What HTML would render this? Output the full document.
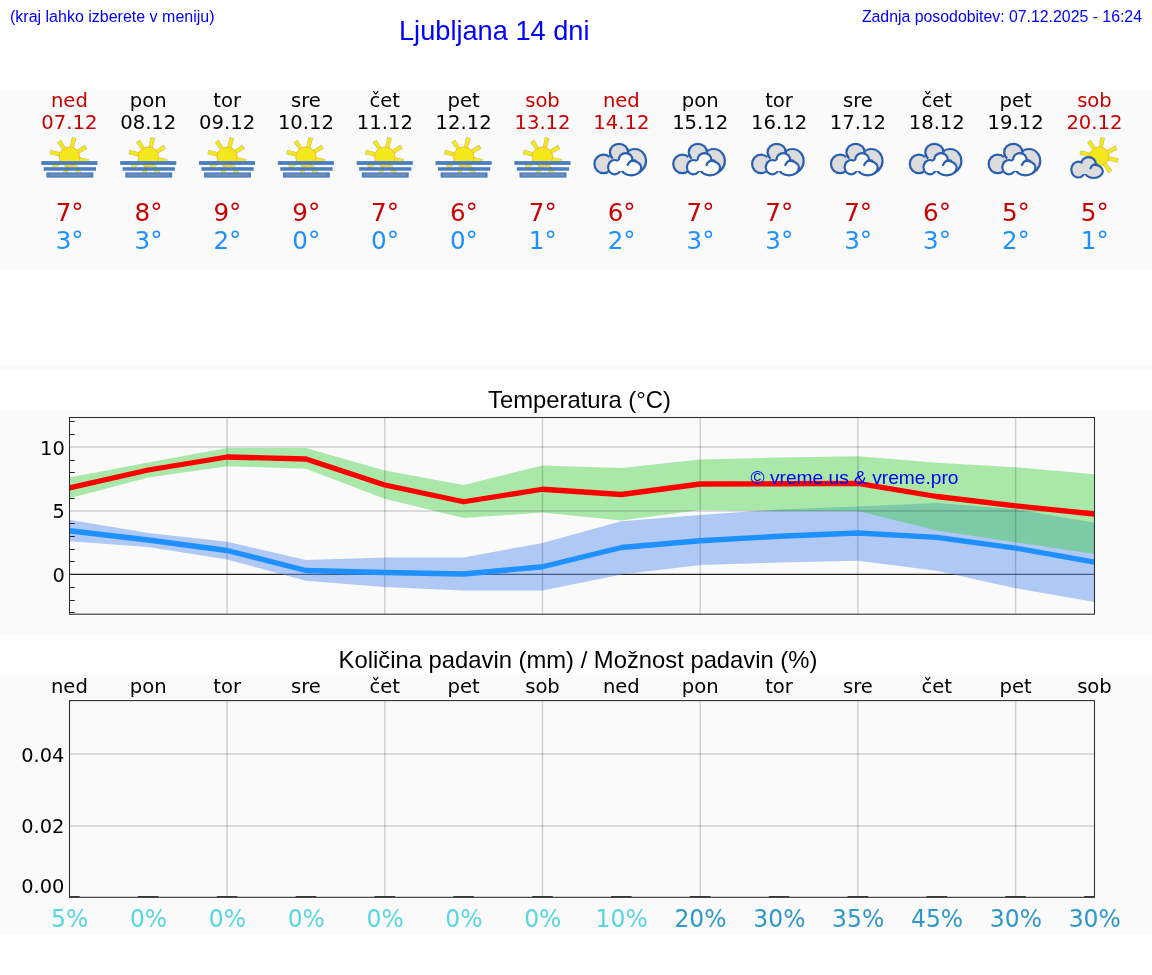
<!DOCTYPE html>
<html lang="sl"><head><meta charset="utf-8"><title>Ljubljana 14 dni</title>
<style>
html,body{margin:0;padding:0;background:#fff;}
body{width:1152px;height:975px;position:relative;overflow:hidden;}
.hdr{position:absolute;color:#0000ff;font-family:"Liberation Sans",sans-serif;white-space:nowrap;}
svg{position:absolute;left:0;top:0;}
text{white-space:pre;}
</style></head><body>
<div class="hdr" style="left:10px;top:8px;font-size:16px;line-height:18px;">(kraj lahko izberete v meniju)</div>
<div class="hdr" style="left:399px;top:15px;font-size:27.2px;line-height:32px;">Ljubljana 14 dni</div>
<div class="hdr" style="right:10px;top:8px;font-size:15.85px;line-height:18px;">Zadnja posodobitev: 07.12.2025 - 16:24</div>
<svg width="1152" height="975" viewBox="0 0 1152 975">

<rect x="0" y="90" width="1152" height="180" fill="#fafafa"/>
<rect x="0" y="365" width="1152" height="5" fill="#fafafa"/>
<rect x="0" y="410" width="1152" height="225" fill="#fafafa"/>
<rect x="0" y="675" width="1152" height="260" fill="#fafafa"/>
<g style="font-family:'DejaVu Sans','Liberation Sans',sans-serif" text-anchor="middle">
<text x="69.40" y="107" font-size="19.6" fill="#cc0000">ned</text>
<text x="69.40" y="128.7" font-size="19.6" fill="#cc0000">07.12</text>
<text x="69.70" y="220.8" font-size="24.6" fill="#cc0000">7°</text>
<text x="69.70" y="248.6" font-size="24.6" fill="#1e90ff">3°</text>
<text x="148.25" y="107" font-size="19.6" fill="#000">pon</text>
<text x="148.25" y="128.7" font-size="19.6" fill="#000">08.12</text>
<text x="148.55" y="220.8" font-size="24.6" fill="#cc0000">8°</text>
<text x="148.55" y="248.6" font-size="24.6" fill="#1e90ff">3°</text>
<text x="227.10" y="107" font-size="19.6" fill="#000">tor</text>
<text x="227.10" y="128.7" font-size="19.6" fill="#000">09.12</text>
<text x="227.40" y="220.8" font-size="24.6" fill="#cc0000">9°</text>
<text x="227.40" y="248.6" font-size="24.6" fill="#1e90ff">2°</text>
<text x="305.95" y="107" font-size="19.6" fill="#000">sre</text>
<text x="305.95" y="128.7" font-size="19.6" fill="#000">10.12</text>
<text x="306.25" y="220.8" font-size="24.6" fill="#cc0000">9°</text>
<text x="306.25" y="248.6" font-size="24.6" fill="#1e90ff">0°</text>
<text x="384.80" y="107" font-size="19.6" fill="#000">čet</text>
<text x="384.80" y="128.7" font-size="19.6" fill="#000">11.12</text>
<text x="385.10" y="220.8" font-size="24.6" fill="#cc0000">7°</text>
<text x="385.10" y="248.6" font-size="24.6" fill="#1e90ff">0°</text>
<text x="463.65" y="107" font-size="19.6" fill="#000">pet</text>
<text x="463.65" y="128.7" font-size="19.6" fill="#000">12.12</text>
<text x="463.95" y="220.8" font-size="24.6" fill="#cc0000">6°</text>
<text x="463.95" y="248.6" font-size="24.6" fill="#1e90ff">0°</text>
<text x="542.50" y="107" font-size="19.6" fill="#cc0000">sob</text>
<text x="542.50" y="128.7" font-size="19.6" fill="#cc0000">13.12</text>
<text x="542.80" y="220.8" font-size="24.6" fill="#cc0000">7°</text>
<text x="542.80" y="248.6" font-size="24.6" fill="#1e90ff">1°</text>
<text x="621.35" y="107" font-size="19.6" fill="#cc0000">ned</text>
<text x="621.35" y="128.7" font-size="19.6" fill="#cc0000">14.12</text>
<text x="621.65" y="220.8" font-size="24.6" fill="#cc0000">6°</text>
<text x="621.65" y="248.6" font-size="24.6" fill="#1e90ff">2°</text>
<text x="700.20" y="107" font-size="19.6" fill="#000">pon</text>
<text x="700.20" y="128.7" font-size="19.6" fill="#000">15.12</text>
<text x="700.50" y="220.8" font-size="24.6" fill="#cc0000">7°</text>
<text x="700.50" y="248.6" font-size="24.6" fill="#1e90ff">3°</text>
<text x="779.05" y="107" font-size="19.6" fill="#000">tor</text>
<text x="779.05" y="128.7" font-size="19.6" fill="#000">16.12</text>
<text x="779.35" y="220.8" font-size="24.6" fill="#cc0000">7°</text>
<text x="779.35" y="248.6" font-size="24.6" fill="#1e90ff">3°</text>
<text x="857.90" y="107" font-size="19.6" fill="#000">sre</text>
<text x="857.90" y="128.7" font-size="19.6" fill="#000">17.12</text>
<text x="858.20" y="220.8" font-size="24.6" fill="#cc0000">7°</text>
<text x="858.20" y="248.6" font-size="24.6" fill="#1e90ff">3°</text>
<text x="936.75" y="107" font-size="19.6" fill="#000">čet</text>
<text x="936.75" y="128.7" font-size="19.6" fill="#000">18.12</text>
<text x="937.05" y="220.8" font-size="24.6" fill="#cc0000">6°</text>
<text x="937.05" y="248.6" font-size="24.6" fill="#1e90ff">3°</text>
<text x="1015.60" y="107" font-size="19.6" fill="#000">pet</text>
<text x="1015.60" y="128.7" font-size="19.6" fill="#000">19.12</text>
<text x="1015.90" y="220.8" font-size="24.6" fill="#cc0000">5°</text>
<text x="1015.90" y="248.6" font-size="24.6" fill="#1e90ff">2°</text>
<text x="1094.45" y="107" font-size="19.6" fill="#cc0000">sob</text>
<text x="1094.45" y="128.7" font-size="19.6" fill="#cc0000">20.12</text>
<text x="1094.75" y="220.8" font-size="24.6" fill="#cc0000">5°</text>
<text x="1094.75" y="248.6" font-size="24.6" fill="#1e90ff">1°</text>
</g>
<g transform="translate(36.30,130)"><polygon points="41.34,24.21 50.95,18.84 48.51,14.77 39.26,20.74" fill="#bdb98f"/><polygon points="41.11,23.82 50.33,18.69 48.35,15.39 39.49,21.12" fill="#f3e81c"/><polygon points="37.10,19.14 40.17,8.26 35.56,7.11 33.17,18.16" fill="#bdb98f"/><polygon points="36.66,19.03 39.62,8.59 35.89,7.66 33.60,18.27" fill="#f3e81c"/><polygon points="30.22,18.65 24.80,9.66 20.81,12.24 26.83,20.86" fill="#bdb98f"/><polygon points="29.85,18.90 24.67,10.28 21.44,12.37 27.20,20.61" fill="#f3e81c"/><polygon points="25.44,22.80 14.46,19.71 13.31,24.31 24.46,26.73" fill="#bdb98f"/><polygon points="25.33,23.24 14.79,20.25 13.86,23.99 24.57,26.30" fill="#f3e81c"/><polygon points="24.86,29.39 15.16,34.81 17.61,38.88 26.94,32.86" fill="#bdb98f"/><polygon points="25.09,29.78 15.78,34.96 17.76,38.26 26.71,32.48" fill="#f3e81c"/><polygon points="29.10,34.46 26.08,45.15 30.69,46.30 33.03,35.44" fill="#bdb98f"/><polygon points="29.54,34.57 26.62,44.82 30.36,45.75 32.60,35.33" fill="#f3e81c"/><polygon points="35.69,35.04 41.11,44.74 45.18,42.29 39.16,32.96" fill="#bdb98f"/><polygon points="36.08,34.81 41.26,44.12 44.56,42.14 38.78,33.19" fill="#f3e81c"/><polygon points="40.76,30.80 51.35,33.80 52.50,29.19 41.74,26.87" fill="#bdb98f"/><polygon points="40.87,30.36 51.02,33.25 51.95,29.52 41.63,27.30" fill="#f3e81c"/><ellipse cx="33.1" cy="26.8" rx="10.19" ry="9.80" fill="#f2e81b" stroke="#f7b52c" stroke-width="0.9"/><rect x="5" y="31.1" width="56.1" height="3.8" fill="#4b7dc2"/><rect x="7.4" y="37.2" width="52.3" height="3.5" fill="#4b7dc2"/><rect x="10.1" y="42.4" width="46.9" height="5.2" fill="#4b7dc2"/><rect x="12.5" y="43.6" width="42" height="2.8" fill="#6a8dbb"/></g>
<g transform="translate(115.15,130)"><polygon points="41.34,24.21 50.95,18.84 48.51,14.77 39.26,20.74" fill="#bdb98f"/><polygon points="41.11,23.82 50.33,18.69 48.35,15.39 39.49,21.12" fill="#f3e81c"/><polygon points="37.10,19.14 40.17,8.26 35.56,7.11 33.17,18.16" fill="#bdb98f"/><polygon points="36.66,19.03 39.62,8.59 35.89,7.66 33.60,18.27" fill="#f3e81c"/><polygon points="30.22,18.65 24.80,9.66 20.81,12.24 26.83,20.86" fill="#bdb98f"/><polygon points="29.85,18.90 24.67,10.28 21.44,12.37 27.20,20.61" fill="#f3e81c"/><polygon points="25.44,22.80 14.46,19.71 13.31,24.31 24.46,26.73" fill="#bdb98f"/><polygon points="25.33,23.24 14.79,20.25 13.86,23.99 24.57,26.30" fill="#f3e81c"/><polygon points="24.86,29.39 15.16,34.81 17.61,38.88 26.94,32.86" fill="#bdb98f"/><polygon points="25.09,29.78 15.78,34.96 17.76,38.26 26.71,32.48" fill="#f3e81c"/><polygon points="29.10,34.46 26.08,45.15 30.69,46.30 33.03,35.44" fill="#bdb98f"/><polygon points="29.54,34.57 26.62,44.82 30.36,45.75 32.60,35.33" fill="#f3e81c"/><polygon points="35.69,35.04 41.11,44.74 45.18,42.29 39.16,32.96" fill="#bdb98f"/><polygon points="36.08,34.81 41.26,44.12 44.56,42.14 38.78,33.19" fill="#f3e81c"/><polygon points="40.76,30.80 51.35,33.80 52.50,29.19 41.74,26.87" fill="#bdb98f"/><polygon points="40.87,30.36 51.02,33.25 51.95,29.52 41.63,27.30" fill="#f3e81c"/><ellipse cx="33.1" cy="26.8" rx="10.19" ry="9.80" fill="#f2e81b" stroke="#f7b52c" stroke-width="0.9"/><rect x="5" y="31.1" width="56.1" height="3.8" fill="#4b7dc2"/><rect x="7.4" y="37.2" width="52.3" height="3.5" fill="#4b7dc2"/><rect x="10.1" y="42.4" width="46.9" height="5.2" fill="#4b7dc2"/><rect x="12.5" y="43.6" width="42" height="2.8" fill="#6a8dbb"/></g>
<g transform="translate(194.00,130)"><polygon points="41.34,24.21 50.95,18.84 48.51,14.77 39.26,20.74" fill="#bdb98f"/><polygon points="41.11,23.82 50.33,18.69 48.35,15.39 39.49,21.12" fill="#f3e81c"/><polygon points="37.10,19.14 40.17,8.26 35.56,7.11 33.17,18.16" fill="#bdb98f"/><polygon points="36.66,19.03 39.62,8.59 35.89,7.66 33.60,18.27" fill="#f3e81c"/><polygon points="30.22,18.65 24.80,9.66 20.81,12.24 26.83,20.86" fill="#bdb98f"/><polygon points="29.85,18.90 24.67,10.28 21.44,12.37 27.20,20.61" fill="#f3e81c"/><polygon points="25.44,22.80 14.46,19.71 13.31,24.31 24.46,26.73" fill="#bdb98f"/><polygon points="25.33,23.24 14.79,20.25 13.86,23.99 24.57,26.30" fill="#f3e81c"/><polygon points="24.86,29.39 15.16,34.81 17.61,38.88 26.94,32.86" fill="#bdb98f"/><polygon points="25.09,29.78 15.78,34.96 17.76,38.26 26.71,32.48" fill="#f3e81c"/><polygon points="29.10,34.46 26.08,45.15 30.69,46.30 33.03,35.44" fill="#bdb98f"/><polygon points="29.54,34.57 26.62,44.82 30.36,45.75 32.60,35.33" fill="#f3e81c"/><polygon points="35.69,35.04 41.11,44.74 45.18,42.29 39.16,32.96" fill="#bdb98f"/><polygon points="36.08,34.81 41.26,44.12 44.56,42.14 38.78,33.19" fill="#f3e81c"/><polygon points="40.76,30.80 51.35,33.80 52.50,29.19 41.74,26.87" fill="#bdb98f"/><polygon points="40.87,30.36 51.02,33.25 51.95,29.52 41.63,27.30" fill="#f3e81c"/><ellipse cx="33.1" cy="26.8" rx="10.19" ry="9.80" fill="#f2e81b" stroke="#f7b52c" stroke-width="0.9"/><rect x="5" y="31.1" width="56.1" height="3.8" fill="#4b7dc2"/><rect x="7.4" y="37.2" width="52.3" height="3.5" fill="#4b7dc2"/><rect x="10.1" y="42.4" width="46.9" height="5.2" fill="#4b7dc2"/><rect x="12.5" y="43.6" width="42" height="2.8" fill="#6a8dbb"/></g>
<g transform="translate(272.85,130)"><polygon points="41.34,24.21 50.95,18.84 48.51,14.77 39.26,20.74" fill="#bdb98f"/><polygon points="41.11,23.82 50.33,18.69 48.35,15.39 39.49,21.12" fill="#f3e81c"/><polygon points="37.10,19.14 40.17,8.26 35.56,7.11 33.17,18.16" fill="#bdb98f"/><polygon points="36.66,19.03 39.62,8.59 35.89,7.66 33.60,18.27" fill="#f3e81c"/><polygon points="30.22,18.65 24.80,9.66 20.81,12.24 26.83,20.86" fill="#bdb98f"/><polygon points="29.85,18.90 24.67,10.28 21.44,12.37 27.20,20.61" fill="#f3e81c"/><polygon points="25.44,22.80 14.46,19.71 13.31,24.31 24.46,26.73" fill="#bdb98f"/><polygon points="25.33,23.24 14.79,20.25 13.86,23.99 24.57,26.30" fill="#f3e81c"/><polygon points="24.86,29.39 15.16,34.81 17.61,38.88 26.94,32.86" fill="#bdb98f"/><polygon points="25.09,29.78 15.78,34.96 17.76,38.26 26.71,32.48" fill="#f3e81c"/><polygon points="29.10,34.46 26.08,45.15 30.69,46.30 33.03,35.44" fill="#bdb98f"/><polygon points="29.54,34.57 26.62,44.82 30.36,45.75 32.60,35.33" fill="#f3e81c"/><polygon points="35.69,35.04 41.11,44.74 45.18,42.29 39.16,32.96" fill="#bdb98f"/><polygon points="36.08,34.81 41.26,44.12 44.56,42.14 38.78,33.19" fill="#f3e81c"/><polygon points="40.76,30.80 51.35,33.80 52.50,29.19 41.74,26.87" fill="#bdb98f"/><polygon points="40.87,30.36 51.02,33.25 51.95,29.52 41.63,27.30" fill="#f3e81c"/><ellipse cx="33.1" cy="26.8" rx="10.19" ry="9.80" fill="#f2e81b" stroke="#f7b52c" stroke-width="0.9"/><rect x="5" y="31.1" width="56.1" height="3.8" fill="#4b7dc2"/><rect x="7.4" y="37.2" width="52.3" height="3.5" fill="#4b7dc2"/><rect x="10.1" y="42.4" width="46.9" height="5.2" fill="#4b7dc2"/><rect x="12.5" y="43.6" width="42" height="2.8" fill="#6a8dbb"/></g>
<g transform="translate(351.70,130)"><polygon points="41.34,24.21 50.95,18.84 48.51,14.77 39.26,20.74" fill="#bdb98f"/><polygon points="41.11,23.82 50.33,18.69 48.35,15.39 39.49,21.12" fill="#f3e81c"/><polygon points="37.10,19.14 40.17,8.26 35.56,7.11 33.17,18.16" fill="#bdb98f"/><polygon points="36.66,19.03 39.62,8.59 35.89,7.66 33.60,18.27" fill="#f3e81c"/><polygon points="30.22,18.65 24.80,9.66 20.81,12.24 26.83,20.86" fill="#bdb98f"/><polygon points="29.85,18.90 24.67,10.28 21.44,12.37 27.20,20.61" fill="#f3e81c"/><polygon points="25.44,22.80 14.46,19.71 13.31,24.31 24.46,26.73" fill="#bdb98f"/><polygon points="25.33,23.24 14.79,20.25 13.86,23.99 24.57,26.30" fill="#f3e81c"/><polygon points="24.86,29.39 15.16,34.81 17.61,38.88 26.94,32.86" fill="#bdb98f"/><polygon points="25.09,29.78 15.78,34.96 17.76,38.26 26.71,32.48" fill="#f3e81c"/><polygon points="29.10,34.46 26.08,45.15 30.69,46.30 33.03,35.44" fill="#bdb98f"/><polygon points="29.54,34.57 26.62,44.82 30.36,45.75 32.60,35.33" fill="#f3e81c"/><polygon points="35.69,35.04 41.11,44.74 45.18,42.29 39.16,32.96" fill="#bdb98f"/><polygon points="36.08,34.81 41.26,44.12 44.56,42.14 38.78,33.19" fill="#f3e81c"/><polygon points="40.76,30.80 51.35,33.80 52.50,29.19 41.74,26.87" fill="#bdb98f"/><polygon points="40.87,30.36 51.02,33.25 51.95,29.52 41.63,27.30" fill="#f3e81c"/><ellipse cx="33.1" cy="26.8" rx="10.19" ry="9.80" fill="#f2e81b" stroke="#f7b52c" stroke-width="0.9"/><rect x="5" y="31.1" width="56.1" height="3.8" fill="#4b7dc2"/><rect x="7.4" y="37.2" width="52.3" height="3.5" fill="#4b7dc2"/><rect x="10.1" y="42.4" width="46.9" height="5.2" fill="#4b7dc2"/><rect x="12.5" y="43.6" width="42" height="2.8" fill="#6a8dbb"/></g>
<g transform="translate(430.55,130)"><polygon points="41.34,24.21 50.95,18.84 48.51,14.77 39.26,20.74" fill="#bdb98f"/><polygon points="41.11,23.82 50.33,18.69 48.35,15.39 39.49,21.12" fill="#f3e81c"/><polygon points="37.10,19.14 40.17,8.26 35.56,7.11 33.17,18.16" fill="#bdb98f"/><polygon points="36.66,19.03 39.62,8.59 35.89,7.66 33.60,18.27" fill="#f3e81c"/><polygon points="30.22,18.65 24.80,9.66 20.81,12.24 26.83,20.86" fill="#bdb98f"/><polygon points="29.85,18.90 24.67,10.28 21.44,12.37 27.20,20.61" fill="#f3e81c"/><polygon points="25.44,22.80 14.46,19.71 13.31,24.31 24.46,26.73" fill="#bdb98f"/><polygon points="25.33,23.24 14.79,20.25 13.86,23.99 24.57,26.30" fill="#f3e81c"/><polygon points="24.86,29.39 15.16,34.81 17.61,38.88 26.94,32.86" fill="#bdb98f"/><polygon points="25.09,29.78 15.78,34.96 17.76,38.26 26.71,32.48" fill="#f3e81c"/><polygon points="29.10,34.46 26.08,45.15 30.69,46.30 33.03,35.44" fill="#bdb98f"/><polygon points="29.54,34.57 26.62,44.82 30.36,45.75 32.60,35.33" fill="#f3e81c"/><polygon points="35.69,35.04 41.11,44.74 45.18,42.29 39.16,32.96" fill="#bdb98f"/><polygon points="36.08,34.81 41.26,44.12 44.56,42.14 38.78,33.19" fill="#f3e81c"/><polygon points="40.76,30.80 51.35,33.80 52.50,29.19 41.74,26.87" fill="#bdb98f"/><polygon points="40.87,30.36 51.02,33.25 51.95,29.52 41.63,27.30" fill="#f3e81c"/><ellipse cx="33.1" cy="26.8" rx="10.19" ry="9.80" fill="#f2e81b" stroke="#f7b52c" stroke-width="0.9"/><rect x="5" y="31.1" width="56.1" height="3.8" fill="#4b7dc2"/><rect x="7.4" y="37.2" width="52.3" height="3.5" fill="#4b7dc2"/><rect x="10.1" y="42.4" width="46.9" height="5.2" fill="#4b7dc2"/><rect x="12.5" y="43.6" width="42" height="2.8" fill="#6a8dbb"/></g>
<g transform="translate(509.40,130)"><polygon points="41.34,24.21 50.95,18.84 48.51,14.77 39.26,20.74" fill="#bdb98f"/><polygon points="41.11,23.82 50.33,18.69 48.35,15.39 39.49,21.12" fill="#f3e81c"/><polygon points="37.10,19.14 40.17,8.26 35.56,7.11 33.17,18.16" fill="#bdb98f"/><polygon points="36.66,19.03 39.62,8.59 35.89,7.66 33.60,18.27" fill="#f3e81c"/><polygon points="30.22,18.65 24.80,9.66 20.81,12.24 26.83,20.86" fill="#bdb98f"/><polygon points="29.85,18.90 24.67,10.28 21.44,12.37 27.20,20.61" fill="#f3e81c"/><polygon points="25.44,22.80 14.46,19.71 13.31,24.31 24.46,26.73" fill="#bdb98f"/><polygon points="25.33,23.24 14.79,20.25 13.86,23.99 24.57,26.30" fill="#f3e81c"/><polygon points="24.86,29.39 15.16,34.81 17.61,38.88 26.94,32.86" fill="#bdb98f"/><polygon points="25.09,29.78 15.78,34.96 17.76,38.26 26.71,32.48" fill="#f3e81c"/><polygon points="29.10,34.46 26.08,45.15 30.69,46.30 33.03,35.44" fill="#bdb98f"/><polygon points="29.54,34.57 26.62,44.82 30.36,45.75 32.60,35.33" fill="#f3e81c"/><polygon points="35.69,35.04 41.11,44.74 45.18,42.29 39.16,32.96" fill="#bdb98f"/><polygon points="36.08,34.81 41.26,44.12 44.56,42.14 38.78,33.19" fill="#f3e81c"/><polygon points="40.76,30.80 51.35,33.80 52.50,29.19 41.74,26.87" fill="#bdb98f"/><polygon points="40.87,30.36 51.02,33.25 51.95,29.52 41.63,27.30" fill="#f3e81c"/><ellipse cx="33.1" cy="26.8" rx="10.19" ry="9.80" fill="#f2e81b" stroke="#f7b52c" stroke-width="0.9"/><rect x="5" y="31.1" width="56.1" height="3.8" fill="#4b7dc2"/><rect x="7.4" y="37.2" width="52.3" height="3.5" fill="#4b7dc2"/><rect x="10.1" y="42.4" width="46.9" height="5.2" fill="#4b7dc2"/><rect x="12.5" y="43.6" width="42" height="2.8" fill="#6a8dbb"/></g>
<g transform="translate(585.00,135)"><ellipse cx="18.5" cy="28.9" rx="10.20" ry="10.30" fill="#2a5eb1"/><ellipse cx="49.8" cy="26" rx="12.30" ry="13.10" fill="#2a5eb1"/><ellipse cx="34" cy="17.2" rx="10.20" ry="9.40" fill="#2a5eb1"/><ellipse cx="18.5" cy="28.9" rx="8.00" ry="8.10" fill="#dcdcdc"/><ellipse cx="49.8" cy="26" rx="10.10" ry="10.90" fill="#dcdcdc"/><ellipse cx="34" cy="17.2" rx="8.00" ry="7.20" fill="#dcdcdc"/><polygon points="24,22 44,18 50,36 26,36" fill="#dcdcdc"/><path d="M25.1,18.6 Q25.6,21.6 27.8,23.6 M42.8,15.5 Q43.3,17 43.1,18.5" fill="none" stroke="#2a5eb1" stroke-width="2.2"/><ellipse cx="29.6" cy="32.2" rx="7.60" ry="8.30" fill="#2a5eb1"/><ellipse cx="40.6" cy="24.8" rx="7.90" ry="7.80" fill="#2a5eb1"/><ellipse cx="46.2" cy="33" rx="11.10" ry="8.40" fill="#2a5eb1"/><ellipse cx="29.6" cy="32.2" rx="5.40" ry="6.10" fill="#fcfcfc"/><ellipse cx="40.6" cy="24.8" rx="5.70" ry="5.60" fill="#fcfcfc"/><ellipse cx="46.2" cy="33" rx="8.90" ry="6.20" fill="#fcfcfc"/><polygon points="30,28 40,22 48,30 46,36 32,36" fill="#fcfcfc"/><path d="M42.6,30 C44,26.8 47,25 50.5,25.6" fill="none" stroke="#2a5eb1" stroke-width="2.2" stroke-linecap="round"/></g>
<g transform="translate(663.85,135)"><ellipse cx="18.5" cy="28.9" rx="10.20" ry="10.30" fill="#2a5eb1"/><ellipse cx="49.8" cy="26" rx="12.30" ry="13.10" fill="#2a5eb1"/><ellipse cx="34" cy="17.2" rx="10.20" ry="9.40" fill="#2a5eb1"/><ellipse cx="18.5" cy="28.9" rx="8.00" ry="8.10" fill="#dcdcdc"/><ellipse cx="49.8" cy="26" rx="10.10" ry="10.90" fill="#dcdcdc"/><ellipse cx="34" cy="17.2" rx="8.00" ry="7.20" fill="#dcdcdc"/><polygon points="24,22 44,18 50,36 26,36" fill="#dcdcdc"/><path d="M25.1,18.6 Q25.6,21.6 27.8,23.6 M42.8,15.5 Q43.3,17 43.1,18.5" fill="none" stroke="#2a5eb1" stroke-width="2.2"/><ellipse cx="29.6" cy="32.2" rx="7.60" ry="8.30" fill="#2a5eb1"/><ellipse cx="40.6" cy="24.8" rx="7.90" ry="7.80" fill="#2a5eb1"/><ellipse cx="46.2" cy="33" rx="11.10" ry="8.40" fill="#2a5eb1"/><ellipse cx="29.6" cy="32.2" rx="5.40" ry="6.10" fill="#fcfcfc"/><ellipse cx="40.6" cy="24.8" rx="5.70" ry="5.60" fill="#fcfcfc"/><ellipse cx="46.2" cy="33" rx="8.90" ry="6.20" fill="#fcfcfc"/><polygon points="30,28 40,22 48,30 46,36 32,36" fill="#fcfcfc"/><path d="M42.6,30 C44,26.8 47,25 50.5,25.6" fill="none" stroke="#2a5eb1" stroke-width="2.2" stroke-linecap="round"/></g>
<g transform="translate(742.70,135)"><ellipse cx="18.5" cy="28.9" rx="10.20" ry="10.30" fill="#2a5eb1"/><ellipse cx="49.8" cy="26" rx="12.30" ry="13.10" fill="#2a5eb1"/><ellipse cx="34" cy="17.2" rx="10.20" ry="9.40" fill="#2a5eb1"/><ellipse cx="18.5" cy="28.9" rx="8.00" ry="8.10" fill="#dcdcdc"/><ellipse cx="49.8" cy="26" rx="10.10" ry="10.90" fill="#dcdcdc"/><ellipse cx="34" cy="17.2" rx="8.00" ry="7.20" fill="#dcdcdc"/><polygon points="24,22 44,18 50,36 26,36" fill="#dcdcdc"/><path d="M25.1,18.6 Q25.6,21.6 27.8,23.6 M42.8,15.5 Q43.3,17 43.1,18.5" fill="none" stroke="#2a5eb1" stroke-width="2.2"/><ellipse cx="29.6" cy="32.2" rx="7.60" ry="8.30" fill="#2a5eb1"/><ellipse cx="40.6" cy="24.8" rx="7.90" ry="7.80" fill="#2a5eb1"/><ellipse cx="46.2" cy="33" rx="11.10" ry="8.40" fill="#2a5eb1"/><ellipse cx="29.6" cy="32.2" rx="5.40" ry="6.10" fill="#fcfcfc"/><ellipse cx="40.6" cy="24.8" rx="5.70" ry="5.60" fill="#fcfcfc"/><ellipse cx="46.2" cy="33" rx="8.90" ry="6.20" fill="#fcfcfc"/><polygon points="30,28 40,22 48,30 46,36 32,36" fill="#fcfcfc"/><path d="M42.6,30 C44,26.8 47,25 50.5,25.6" fill="none" stroke="#2a5eb1" stroke-width="2.2" stroke-linecap="round"/></g>
<g transform="translate(821.55,135)"><ellipse cx="18.5" cy="28.9" rx="10.20" ry="10.30" fill="#2a5eb1"/><ellipse cx="49.8" cy="26" rx="12.30" ry="13.10" fill="#2a5eb1"/><ellipse cx="34" cy="17.2" rx="10.20" ry="9.40" fill="#2a5eb1"/><ellipse cx="18.5" cy="28.9" rx="8.00" ry="8.10" fill="#dcdcdc"/><ellipse cx="49.8" cy="26" rx="10.10" ry="10.90" fill="#dcdcdc"/><ellipse cx="34" cy="17.2" rx="8.00" ry="7.20" fill="#dcdcdc"/><polygon points="24,22 44,18 50,36 26,36" fill="#dcdcdc"/><path d="M25.1,18.6 Q25.6,21.6 27.8,23.6 M42.8,15.5 Q43.3,17 43.1,18.5" fill="none" stroke="#2a5eb1" stroke-width="2.2"/><ellipse cx="29.6" cy="32.2" rx="7.60" ry="8.30" fill="#2a5eb1"/><ellipse cx="40.6" cy="24.8" rx="7.90" ry="7.80" fill="#2a5eb1"/><ellipse cx="46.2" cy="33" rx="11.10" ry="8.40" fill="#2a5eb1"/><ellipse cx="29.6" cy="32.2" rx="5.40" ry="6.10" fill="#fcfcfc"/><ellipse cx="40.6" cy="24.8" rx="5.70" ry="5.60" fill="#fcfcfc"/><ellipse cx="46.2" cy="33" rx="8.90" ry="6.20" fill="#fcfcfc"/><polygon points="30,28 40,22 48,30 46,36 32,36" fill="#fcfcfc"/><path d="M42.6,30 C44,26.8 47,25 50.5,25.6" fill="none" stroke="#2a5eb1" stroke-width="2.2" stroke-linecap="round"/></g>
<g transform="translate(900.40,135)"><ellipse cx="18.5" cy="28.9" rx="10.20" ry="10.30" fill="#2a5eb1"/><ellipse cx="49.8" cy="26" rx="12.30" ry="13.10" fill="#2a5eb1"/><ellipse cx="34" cy="17.2" rx="10.20" ry="9.40" fill="#2a5eb1"/><ellipse cx="18.5" cy="28.9" rx="8.00" ry="8.10" fill="#dcdcdc"/><ellipse cx="49.8" cy="26" rx="10.10" ry="10.90" fill="#dcdcdc"/><ellipse cx="34" cy="17.2" rx="8.00" ry="7.20" fill="#dcdcdc"/><polygon points="24,22 44,18 50,36 26,36" fill="#dcdcdc"/><path d="M25.1,18.6 Q25.6,21.6 27.8,23.6 M42.8,15.5 Q43.3,17 43.1,18.5" fill="none" stroke="#2a5eb1" stroke-width="2.2"/><ellipse cx="29.6" cy="32.2" rx="7.60" ry="8.30" fill="#2a5eb1"/><ellipse cx="40.6" cy="24.8" rx="7.90" ry="7.80" fill="#2a5eb1"/><ellipse cx="46.2" cy="33" rx="11.10" ry="8.40" fill="#2a5eb1"/><ellipse cx="29.6" cy="32.2" rx="5.40" ry="6.10" fill="#fcfcfc"/><ellipse cx="40.6" cy="24.8" rx="5.70" ry="5.60" fill="#fcfcfc"/><ellipse cx="46.2" cy="33" rx="8.90" ry="6.20" fill="#fcfcfc"/><polygon points="30,28 40,22 48,30 46,36 32,36" fill="#fcfcfc"/><path d="M42.6,30 C44,26.8 47,25 50.5,25.6" fill="none" stroke="#2a5eb1" stroke-width="2.2" stroke-linecap="round"/></g>
<g transform="translate(979.25,135)"><ellipse cx="18.5" cy="28.9" rx="10.20" ry="10.30" fill="#2a5eb1"/><ellipse cx="49.8" cy="26" rx="12.30" ry="13.10" fill="#2a5eb1"/><ellipse cx="34" cy="17.2" rx="10.20" ry="9.40" fill="#2a5eb1"/><ellipse cx="18.5" cy="28.9" rx="8.00" ry="8.10" fill="#dcdcdc"/><ellipse cx="49.8" cy="26" rx="10.10" ry="10.90" fill="#dcdcdc"/><ellipse cx="34" cy="17.2" rx="8.00" ry="7.20" fill="#dcdcdc"/><polygon points="24,22 44,18 50,36 26,36" fill="#dcdcdc"/><path d="M25.1,18.6 Q25.6,21.6 27.8,23.6 M42.8,15.5 Q43.3,17 43.1,18.5" fill="none" stroke="#2a5eb1" stroke-width="2.2"/><ellipse cx="29.6" cy="32.2" rx="7.60" ry="8.30" fill="#2a5eb1"/><ellipse cx="40.6" cy="24.8" rx="7.90" ry="7.80" fill="#2a5eb1"/><ellipse cx="46.2" cy="33" rx="11.10" ry="8.40" fill="#2a5eb1"/><ellipse cx="29.6" cy="32.2" rx="5.40" ry="6.10" fill="#fcfcfc"/><ellipse cx="40.6" cy="24.8" rx="5.70" ry="5.60" fill="#fcfcfc"/><ellipse cx="46.2" cy="33" rx="8.90" ry="6.20" fill="#fcfcfc"/><polygon points="30,28 40,22 48,30 46,36 32,36" fill="#fcfcfc"/><path d="M42.6,30 C44,26.8 47,25 50.5,25.6" fill="none" stroke="#2a5eb1" stroke-width="2.2" stroke-linecap="round"/></g>
<g transform="translate(1058.00,132)"><polygon points="38.42,16.66 32.77,7.68 28.93,10.28 35.13,18.87" fill="#bdb98f"/><polygon points="38.04,16.91 32.65,8.31 29.55,10.40 35.51,18.62" fill="#f3e81c"/><polygon points="44.59,16.87 46.87,5.89 42.30,5.09 40.69,16.18" fill="#bdb98f"/><polygon points="44.15,16.79 46.35,6.26 42.66,5.61 41.13,16.26" fill="#f3e81c"/><polygon points="49.28,22.53 59.50,17.71 57.39,13.57 47.48,19.00" fill="#bdb98f"/><polygon points="49.07,22.13 58.89,17.51 57.20,14.18 47.68,19.40" fill="#f3e81c"/><polygon points="33.77,20.93 22.45,18.38 21.57,22.94 33.02,24.82" fill="#bdb98f"/><polygon points="33.69,21.37 22.81,18.91 22.10,22.58 33.11,24.38" fill="#f3e81c"/><polygon points="48.66,28.00 59.74,30.70 60.71,26.16 49.49,24.13" fill="#bdb98f"/><polygon points="48.76,27.56 59.40,30.17 60.17,26.51 49.39,24.57" fill="#f3e81c"/><polygon points="44.35,32.04 50.66,41.30 54.41,38.57 47.55,29.71" fill="#bdb98f"/><polygon points="44.71,31.77 50.76,40.67 53.78,38.47 47.19,29.97" fill="#f3e81c"/><ellipse cx="41.25" cy="24.4" rx="9.78" ry="9.40" fill="#f2e81b" stroke="#f7b52c" stroke-width="0.9"/><ellipse cx="20.3" cy="37.6" rx="8.10" ry="9.00" fill="#2a5eb1"/><ellipse cx="30.5" cy="31.5" rx="8.30" ry="7.40" fill="#2a5eb1"/><ellipse cx="35.6" cy="39.3" rx="10.30" ry="7.80" fill="#2a5eb1"/><ellipse cx="20.3" cy="37.6" rx="5.90" ry="6.80" fill="#dcdcdc"/><ellipse cx="30.5" cy="31.5" rx="6.10" ry="5.20" fill="#dcdcdc"/><ellipse cx="35.6" cy="39.3" rx="8.10" ry="5.60" fill="#dcdcdc"/><polygon points="21,34 30,28 38,36 36,42 22,42" fill="#dcdcdc"/><path d="M32.5,36.3 C33.6,33.6 36.3,32 39.3,32.6" fill="none" stroke="#2a5eb1" stroke-width="2.2" stroke-linecap="round"/></g>
<text x="579.5" y="407.6" text-anchor="middle" font-size="23.8" style="font-family:'Liberation Sans',sans-serif" fill="#000">Temperatura (°C)</text>
<rect x="69.5" y="417.5" width="1025.0" height="196.70000000000005" fill="none" stroke="#ffffff" stroke-width="3.2" opacity="0.85"/>
<line x1="69.5" y1="574.4" x2="1094.5" y2="574.4" stroke="#222" stroke-width="1.1"/>
<clipPath id="c1"><rect x="69.5" y="417.5" width="1025.0" height="196.70000000000005"/></clipPath>
<g clip-path="url(#c1)">
<polygon points="69.40,519.70 148.25,533.00 227.10,541.75 305.95,560.00 384.80,557.50 463.65,557.50 542.50,543.00 621.35,521.25 700.20,515.00 779.05,509.50 857.90,506.40 936.75,503.00 1015.60,509.30 1094.45,522.75 1094.45,602.00 1015.60,588.30 936.75,570.80 857.90,560.70 779.05,562.50 700.20,565.00 621.35,574.50 542.50,590.50 463.65,590.50 384.80,587.00 305.95,580.75 227.10,559.50 148.25,547.00 69.40,541.25" fill="rgba(100,149,237,0.5)"/>
<polygon points="69.40,477.40 148.25,462.50 227.10,448.00 305.95,448.00 384.80,470.50 463.65,485.00 542.50,465.50 621.35,468.00 700.20,459.50 779.05,457.50 857.90,456.25 936.75,462.70 1015.60,467.30 1094.45,474.30 1094.45,554.00 1015.60,542.30 936.75,530.60 857.90,511.00 779.05,511.00 700.20,510.00 621.35,520.50 542.50,512.50 463.65,518.00 384.80,498.75 305.95,468.75 227.10,466.25 148.25,477.50 69.40,498.30" fill="rgba(50,205,50,0.4)"/>
</g>
<g stroke="rgba(0,0,0,0.17)" stroke-width="1.5">
<line x1="227.10" y1="417.5" x2="227.10" y2="614.2"/>
<line x1="384.80" y1="417.5" x2="384.80" y2="614.2"/>
<line x1="542.50" y1="417.5" x2="542.50" y2="614.2"/>
<line x1="700.20" y1="417.5" x2="700.20" y2="614.2"/>
<line x1="857.90" y1="417.5" x2="857.90" y2="614.2"/>
<line x1="1015.60" y1="417.5" x2="1015.60" y2="614.2"/>
<line x1="69.5" y1="511.0" x2="1094.5" y2="511.0"/>
<line x1="69.5" y1="447.0" x2="1094.5" y2="447.0"/>
</g>
<g stroke="#222" stroke-width="1">
<line x1="69.5" y1="421.50" x2="74.7" y2="421.50"/>
<line x1="69.5" y1="434.50" x2="74.7" y2="434.50"/>
<line x1="69.5" y1="460.50" x2="74.7" y2="460.50"/>
<line x1="69.5" y1="472.50" x2="74.7" y2="472.50"/>
<line x1="69.5" y1="485.50" x2="74.7" y2="485.50"/>
<line x1="69.5" y1="498.50" x2="74.7" y2="498.50"/>
<line x1="69.5" y1="523.50" x2="74.7" y2="523.50"/>
<line x1="69.5" y1="536.50" x2="74.7" y2="536.50"/>
<line x1="69.5" y1="549.50" x2="74.7" y2="549.50"/>
<line x1="69.5" y1="561.50" x2="74.7" y2="561.50"/>
<line x1="69.5" y1="587.50" x2="74.7" y2="587.50"/>
<line x1="69.5" y1="600.50" x2="74.7" y2="600.50"/>
<line x1="69.5" y1="612.50" x2="74.7" y2="612.50"/>
</g>
<g clip-path="url(#c1)">
<polyline points="69.40,530.75 148.25,540.00 227.10,550.50 305.95,570.50 384.80,572.50 463.65,574.00 542.50,566.75 621.35,547.50 700.20,540.75 779.05,536.25 857.90,533.00 936.75,537.30 1015.60,548.10 1094.45,562.10" fill="none" stroke="#1e90ff" stroke-width="5.3" stroke-linejoin="round"/>
<polyline points="69.40,488.00 148.25,470.00 227.10,457.00 305.95,459.00 384.80,485.00 463.65,501.75 542.50,489.25 621.35,494.50 700.20,484.00 779.05,483.75 857.90,483.40 936.75,496.50 1015.60,505.80 1094.45,514.00" fill="none" stroke="#ff0000" stroke-width="5.3" stroke-linejoin="round"/>
</g>
<rect x="69.5" y="417.5" width="1025.0" height="196.70000000000005" fill="none" stroke="#2e2e2e" stroke-width="1.1"/>
<g style="font-family:'DejaVu Sans','Liberation Sans',sans-serif" font-size="19.4" text-anchor="end" fill="#000">
<text x="64.8" y="581.7">0</text>
<text x="64.8" y="518.1">5</text>
<text x="64.8" y="454.9">10</text>
</g>
<text x="750.5" y="484" font-size="18.6" style="font-family:'Liberation Sans',sans-serif" fill="#0000f4" textLength="208" lengthAdjust="spacingAndGlyphs">© vreme.us &amp; vreme.pro</text>
<text x="578" y="667.6" text-anchor="middle" font-size="23.8" style="font-family:'Liberation Sans',sans-serif" fill="#000">Količina padavin (mm) / Možnost padavin (%)</text>
<rect x="69.5" y="700.6" width="1025.0" height="196.69999999999993" fill="none" stroke="#ffffff" stroke-width="3.2" opacity="0.85"/>
<g stroke="rgba(0,0,0,0.17)" stroke-width="1.5">
<line x1="227.10" y1="700.6" x2="227.10" y2="897.3"/>
<line x1="384.80" y1="700.6" x2="384.80" y2="897.3"/>
<line x1="542.50" y1="700.6" x2="542.50" y2="897.3"/>
<line x1="700.20" y1="700.6" x2="700.20" y2="897.3"/>
<line x1="857.90" y1="700.6" x2="857.90" y2="897.3"/>
<line x1="1015.60" y1="700.6" x2="1015.60" y2="897.3"/>
<line x1="69.5" y1="753.9" x2="1094.5" y2="753.9"/>
<line x1="69.5" y1="826" x2="1094.5" y2="826"/>
</g>
<rect x="69.50" y="896.1" width="10.20" height="1.2" fill="#2a2a2a"/>
<rect x="137.95" y="896.1" width="20.60" height="1.2" fill="#2a2a2a"/>
<rect x="216.80" y="896.1" width="20.60" height="1.2" fill="#2a2a2a"/>
<rect x="295.65" y="896.1" width="20.60" height="1.2" fill="#2a2a2a"/>
<rect x="374.50" y="896.1" width="20.60" height="1.2" fill="#2a2a2a"/>
<rect x="453.35" y="896.1" width="20.60" height="1.2" fill="#2a2a2a"/>
<rect x="532.20" y="896.1" width="20.60" height="1.2" fill="#2a2a2a"/>
<rect x="611.05" y="896.1" width="20.60" height="1.2" fill="#2a2a2a"/>
<rect x="689.90" y="896.1" width="20.60" height="1.2" fill="#2a2a2a"/>
<rect x="768.75" y="896.1" width="20.60" height="1.2" fill="#2a2a2a"/>
<rect x="847.60" y="896.1" width="20.60" height="1.2" fill="#2a2a2a"/>
<rect x="926.45" y="896.1" width="20.60" height="1.2" fill="#2a2a2a"/>
<rect x="1005.30" y="896.1" width="20.60" height="1.2" fill="#2a2a2a"/>
<rect x="1084.15" y="896.1" width="10.35" height="1.2" fill="#2a2a2a"/>
<rect x="69.5" y="700.6" width="1025.0" height="196.69999999999993" fill="none" stroke="#2e2e2e" stroke-width="1.1"/>
<g style="font-family:'DejaVu Sans','Liberation Sans',sans-serif" font-size="19.4" text-anchor="end" fill="#000">
<text x="64.4" y="762">0.04</text>
<text x="64.4" y="833">0.02</text>
<text x="64.4" y="893">0.00</text>
</g>
<g style="font-family:'DejaVu Sans','Liberation Sans',sans-serif" text-anchor="middle">
<text x="69.40" y="692.8" font-size="19.6" fill="#000">ned</text>
<text transform="translate(69.70,927) scale(0.97,1)" font-size="24.2" fill="#58d6e2">5%</text>
<text x="148.25" y="692.8" font-size="19.6" fill="#000">pon</text>
<text transform="translate(148.55,927) scale(0.97,1)" font-size="24.2" fill="#58d6e2">0%</text>
<text x="227.10" y="692.8" font-size="19.6" fill="#000">tor</text>
<text transform="translate(227.40,927) scale(0.97,1)" font-size="24.2" fill="#58d6e2">0%</text>
<text x="305.95" y="692.8" font-size="19.6" fill="#000">sre</text>
<text transform="translate(306.25,927) scale(0.97,1)" font-size="24.2" fill="#58d6e2">0%</text>
<text x="384.80" y="692.8" font-size="19.6" fill="#000">čet</text>
<text transform="translate(385.10,927) scale(0.97,1)" font-size="24.2" fill="#58d6e2">0%</text>
<text x="463.65" y="692.8" font-size="19.6" fill="#000">pet</text>
<text transform="translate(463.95,927) scale(0.97,1)" font-size="24.2" fill="#58d6e2">0%</text>
<text x="542.50" y="692.8" font-size="19.6" fill="#000">sob</text>
<text transform="translate(542.80,927) scale(0.97,1)" font-size="24.2" fill="#58d6e2">0%</text>
<text x="621.35" y="692.8" font-size="19.6" fill="#000">ned</text>
<text transform="translate(621.65,927) scale(0.97,1)" font-size="24.2" fill="#58d6e2">10%</text>
<text x="700.20" y="692.8" font-size="19.6" fill="#000">pon</text>
<text transform="translate(700.50,927) scale(0.97,1)" font-size="24.2" fill="#3097cd">20%</text>
<text x="779.05" y="692.8" font-size="19.6" fill="#000">tor</text>
<text transform="translate(779.35,927) scale(0.97,1)" font-size="24.2" fill="#3097cd">30%</text>
<text x="857.90" y="692.8" font-size="19.6" fill="#000">sre</text>
<text transform="translate(858.20,927) scale(0.97,1)" font-size="24.2" fill="#3097cd">35%</text>
<text x="936.75" y="692.8" font-size="19.6" fill="#000">čet</text>
<text transform="translate(937.05,927) scale(0.97,1)" font-size="24.2" fill="#3097cd">45%</text>
<text x="1015.60" y="692.8" font-size="19.6" fill="#000">pet</text>
<text transform="translate(1015.90,927) scale(0.97,1)" font-size="24.2" fill="#3097cd">30%</text>
<text x="1094.45" y="692.8" font-size="19.6" fill="#000">sob</text>
<text transform="translate(1094.75,927) scale(0.97,1)" font-size="24.2" fill="#3097cd">30%</text>
</g>
</svg></body></html>
